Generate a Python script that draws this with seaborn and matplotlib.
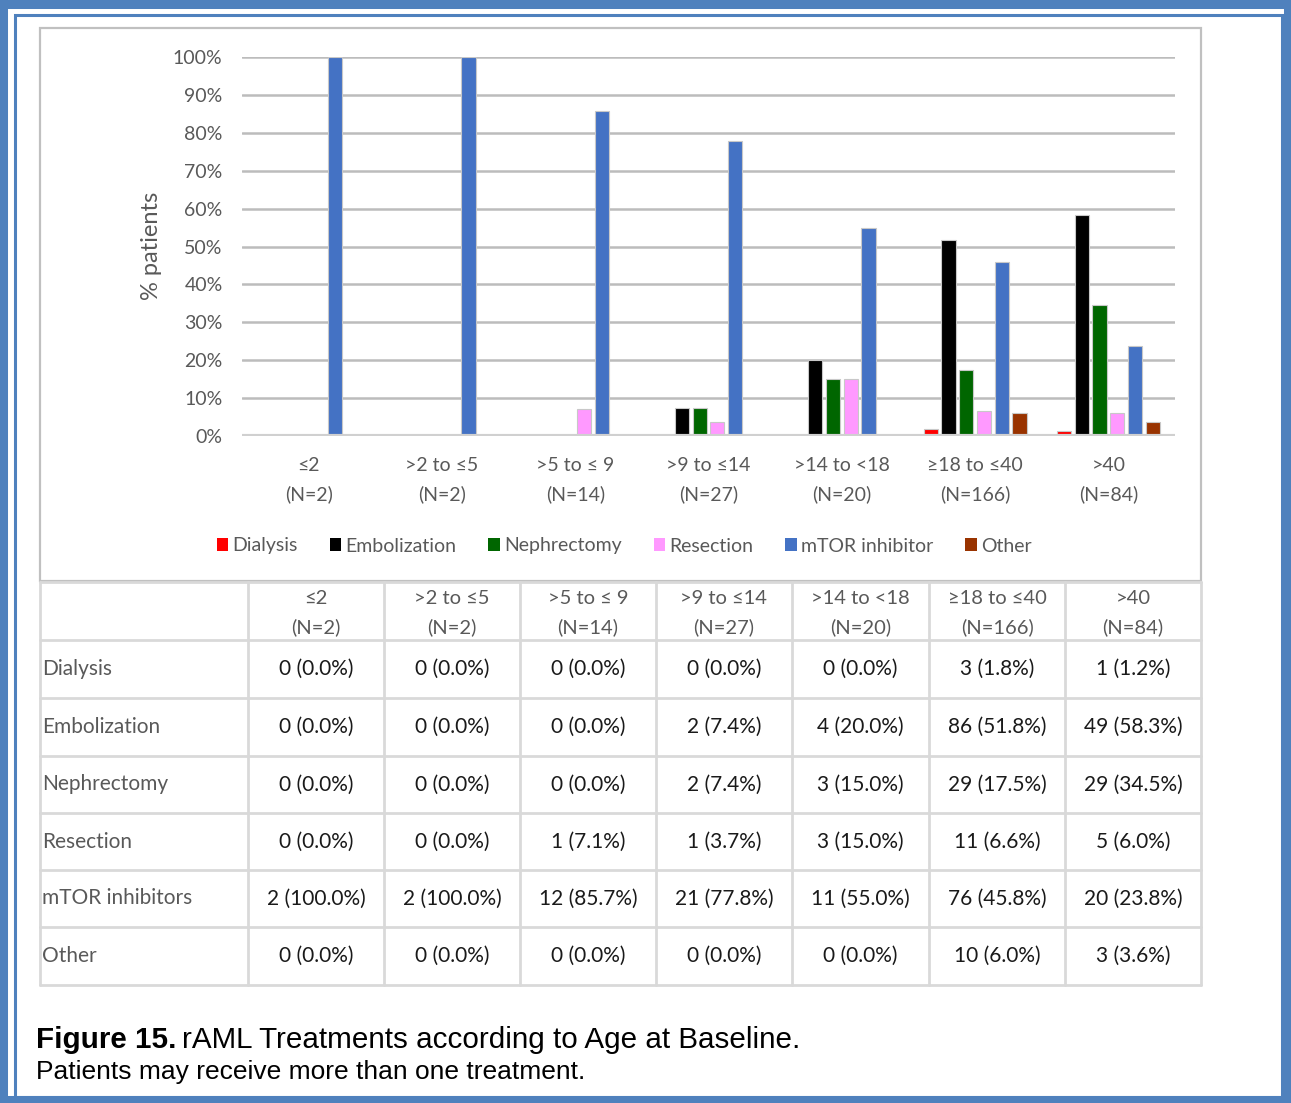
import matplotlib
matplotlib.use("Agg")
import matplotlib.pyplot as plt
from matplotlib.patches import Rectangle, Patch
from matplotlib.lines import Line2D
import numpy as np
import pandas as pd
import seaborn as sns

# ---- data -------------------------------------------------------------
age_bands = ["≤2", ">2 to ≤5", ">5 to ≤ 9", ">9 to ≤14", ">14 to <18", "≥18 to ≤40", ">40"]
group_n = [2, 2, 14, 27, 20, 166, 84]

treatments = ["Dialysis", "Embolization", "Nephrectomy", "Resection", "mTOR inhibitor", "Other"]
table_rows = ["Dialysis", "Embolization", "Nephrectomy", "Resection", "mTOR inhibitors", "Other"]

dialysis_n = [0, 0, 0, 0, 0, 3, 1]
dialysis_pct = [0.0, 0.0, 0.0, 0.0, 0.0, 1.8, 1.2]
embolization_n = [0, 0, 0, 2, 4, 86, 49]
embolization_pct = [0.0, 0.0, 0.0, 7.4, 20.0, 51.8, 58.3]
nephrectomy_n = [0, 0, 0, 2, 3, 29, 29]
nephrectomy_pct = [0.0, 0.0, 0.0, 7.4, 15.0, 17.5, 34.5]
resection_n = [0, 0, 1, 1, 3, 11, 5]
resection_pct = [0.0, 0.0, 7.1, 3.7, 15.0, 6.6, 6.0]
mtor_n = [2, 2, 12, 21, 11, 76, 20]
mtor_pct = [100.0, 100.0, 85.7, 77.8, 55.0, 45.8, 23.8]
other_n = [0, 0, 0, 0, 0, 10, 3]
other_pct = [0.0, 0.0, 0.0, 0.0, 0.0, 6.0, 3.6]

counts = [dialysis_n, embolization_n, nephrectomy_n, resection_n, mtor_n, other_n]
pcts = [dialysis_pct, embolization_pct, nephrectomy_pct, resection_pct, mtor_pct, other_pct]

colors = ["#ff0000", "#000000", "#006600", "#ff99ff", "#4472c4", "#993300"]

group_labels = [f"{b}\n(N={n})" for b, n in zip(age_bands, group_n)]

rows = []
for t, vals in zip(treatments, pcts):
    for g, v in zip(group_labels, vals):
        rows.append({"group": g, "treatment": t, "pct": v})
df = pd.DataFrame(rows)

# ---- figure -----------------------------------------------------------
W, H = 1291, 1103
sns.set_theme(style="white")
plt.rcParams["font.family"] = ["Lato", "DejaVu Sans"]

fig = plt.figure(figsize=(W / 100, H / 100), dpi=100)
fig.patch.set_facecolor("white")


def fx(x):
    return x / W


def fy(y):
    return 1 - y / H


# page frame: thick outer band plus thin inner rule
blue = "#4f81bd"
fig.add_artist(Rectangle((fx(3), fy(1100)), fx(1288) - fx(3), fy(4) - fy(1100),
                         transform=fig.transFigure, fill=False, edgecolor=blue,
                         linewidth=6.5, zorder=0))
fig.add_artist(Rectangle((fx(15), fy(1097)), fx(1282) - fx(15), fy(15) - fy(1097),
                         transform=fig.transFigure, fill=False, edgecolor=blue,
                         linewidth=2.2, zorder=0))

# chart frame
fig.add_artist(Rectangle((fx(40), fy(581)), fx(1201) - fx(40), fy(28) - fy(581),
                         transform=fig.transFigure, fill=False, edgecolor="#c0c0c0",
                         linewidth=1.6, zorder=0))

# ---- bar chart --------------------------------------------------------
ax_l, ax_r, ax_t, ax_b = 242, 1175, 57, 436
ax = fig.add_axes([fx(ax_l), fy(ax_b), fx(ax_r) - fx(ax_l), fy(ax_t) - fy(ax_b)])
sns.barplot(data=df, x="group", y="pct", hue="treatment", order=group_labels,
            hue_order=treatments, palette=dict(zip(treatments, colors)),
            width=0.8, gap=0.2, edgecolor="#c8c8c8", linewidth=0.8,
            saturation=1, legend=False, ax=ax, zorder=3)
ax.set_xlim(-0.5, len(group_labels) - 0.5)
ax.set_ylim(0, 100)
ax.set_yticks(np.arange(0, 101, 10))
ax.set_yticklabels([f"{v}%" for v in range(0, 101, 10)])
ax.set_xlabel("")
ax.set_ylabel("")
for s in ax.spines.values():
    s.set_visible(False)
for v in range(10, 101, 10):
    ax.axhline(v, color="#bcbcbc", linewidth=1.8, zorder=1)
ax.axhline(0, color="#d0d0d0", linewidth=3, zorder=4)
ax.tick_params(axis="y", length=0, pad=14, labelsize=14, labelcolor="#595959")
ax.tick_params(axis="x", length=0, pad=15, labelsize=14, labelcolor="#595959")
for lab in ax.get_xticklabels():
    lab.set_linespacing(1.75)
ax.set_facecolor("none")

fig.text(fx(152), fy(246), "% patients", rotation=90, ha="center", va="center",
         fontsize=17, color="#595959")

handles = [Patch(facecolor=c, edgecolor="none") for c in colors]
fig.legend(handles, treatments, loc="center", bbox_to_anchor=(fx(624), fy(546)),
           ncol=6, frameon=False, fontsize=14, handlelength=0.6, handleheight=0.6,
           handletextpad=0.2, columnspacing=1.65, labelcolor="#595959")

# ---- data table -------------------------------------------------------
col_x = [40, 248, 384, 520, 656, 792, 929, 1065, 1201]
row_y = [582, 640, 698, 756, 813, 870, 927, 985]
grid_c = "#d9d9d9"
for x in col_x:
    fig.add_artist(Line2D([fx(x), fx(x)], [fy(row_y[0]), fy(row_y[-1])],
                          transform=fig.transFigure, color=grid_c, linewidth=2))
for y in row_y:
    fig.add_artist(Line2D([fx(col_x[0]), fx(col_x[-1])], [fy(y), fy(y)],
                          transform=fig.transFigure, color=grid_c, linewidth=2))

for j, (b, n) in enumerate(zip(age_bands, group_n)):
    cx = (col_x[j + 1] + col_x[j + 2]) / 2
    fig.text(fx(cx), fy(599), b, ha="center", va="center", fontsize=14.5, color="#595959")
    fig.text(fx(cx), fy(627), f"(N={n})", ha="center", va="center", fontsize=14.5,
             color="#595959")

for i, name in enumerate(table_rows):
    cy = (row_y[i + 1] + row_y[i + 2]) / 2
    fig.text(fx(42), fy(cy), name, ha="left", va="center", fontsize=15, color="#595959")
    for j in range(len(age_bands)):
        cx = (col_x[j + 1] + col_x[j + 2]) / 2
        fig.text(fx(cx), fy(cy), f"{counts[i][j]} ({pcts[i][j]:.1f}%)", ha="center",
                 va="center", fontsize=15, color="#1a1a1a")

# ---- caption ----------------------------------------------------------
cap_font = ["Liberation Sans", "DejaVu Sans"]
t1 = fig.text(fx(36), fy(1048), "Figure 15.", ha="left", va="baseline", fontsize=21.3,
              fontweight="bold", family=cap_font, color="black")
renderer = fig.canvas.get_renderer()
bb = t1.get_window_extent(renderer)
fig.text(bb.x1 / W + fx(6), fy(1048), "rAML Treatments according to Age at Baseline.",
         ha="left", va="baseline", fontsize=21.3, family=cap_font, color="black")
fig.text(fx(36), fy(1079), "Patients may receive more than one treatment.", ha="left",
         va="baseline", fontsize=19, family=cap_font, color="black")

fig.savefig("out.png", dpi=100)
